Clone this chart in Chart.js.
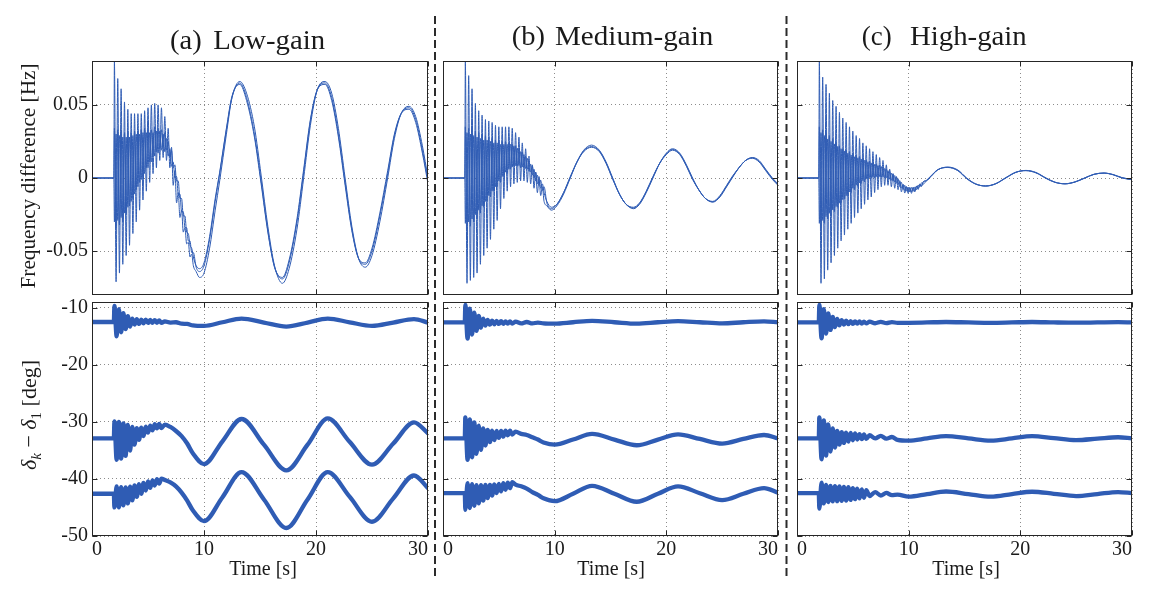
<!DOCTYPE html>
<html>
<head>
<meta charset="utf-8">
<title>Low / medium / high gain responses</title>
<script src="https://cdn.jsdelivr.net/npm/chart.js@4.4.0/dist/chart.umd.min.js"></script>
<style>
  html, body { margin: 0; padding: 0; background: #fff; }
  #page { position: relative; width: 1152px; height: 599px; overflow: hidden; background: #fff; }
  #page canvas { position: absolute; }
  #ann { position: absolute; left: 0; top: 0; pointer-events: none; }
</style>
</head>
<body>
<div id="page">
  <canvas id="aTop"></canvas>
  <canvas id="bTop"></canvas>
  <canvas id="cTop"></canvas>
  <canvas id="aBot"></canvas>
  <canvas id="bBot"></canvas>
  <canvas id="cBot"></canvas>
  <svg id="ann" width="1152" height="599" font-family="'Liberation Serif', 'Times New Roman', serif" fill="#1a1a1a">
    <line x1="435" y1="16" x2="435" y2="580" stroke="#2b2b2b" stroke-width="2" stroke-dasharray="8 4"/>
    <line x1="786.5" y1="16" x2="786.5" y2="580" stroke="#2b2b2b" stroke-width="2" stroke-dasharray="8 4"/>

    <text x="170" y="49" font-size="28" textLength="31.7" lengthAdjust="spacingAndGlyphs">(a)</text>
    <text x="213.3" y="49" font-size="28" textLength="111.7" lengthAdjust="spacingAndGlyphs">Low-gain</text>
    <text x="511.7" y="45" font-size="28" textLength="33.3" lengthAdjust="spacingAndGlyphs">(b)</text>
    <text x="555" y="45" font-size="28" textLength="158.3" lengthAdjust="spacingAndGlyphs">Medium-gain</text>
    <text x="861.7" y="45" font-size="28" textLength="30" lengthAdjust="spacingAndGlyphs">(c)</text>
    <text x="910" y="45" font-size="28" textLength="116.7" lengthAdjust="spacingAndGlyphs">High-gain</text>

    <text transform="translate(35 176) rotate(-90)" text-anchor="middle" font-size="21" textLength="225" lengthAdjust="spacingAndGlyphs">Frequency difference [Hz]</text>
    <text transform="translate(36 415) rotate(-90)" text-anchor="middle" font-size="22"><tspan font-style="italic">δ</tspan><tspan font-style="italic" font-size="15" dy="5">k</tspan><tspan dy="-5"> − </tspan><tspan font-style="italic">δ</tspan><tspan font-size="15" dy="5">1</tspan><tspan dy="-5"> [deg]</tspan></text>

    <text x="263" y="574.5" text-anchor="middle" font-size="20">Time [s]</text>
    <text x="611" y="574.5" text-anchor="middle" font-size="20">Time [s]</text>
    <text x="966" y="574.5" text-anchor="middle" font-size="20">Time [s]</text>
  </svg>
</div>
<script>
// ---- time axes (s) ----
const fastTime = [2.00, 2.15, 2.30, 2.45, 2.60, 2.75, 2.90, 3.05, 3.20, 3.35, 3.50, 3.65, 3.80, 3.95, 4.10, 4.25,
  4.40, 4.55, 4.70, 4.85, 5.00, 5.15, 5.30, 5.45, 5.60, 5.75, 5.90, 6.05, 6.20, 6.35, 6.50, 6.65, 6.80, 6.95,
  7.10, 7.25, 7.40, 7.55, 7.70, 7.85, 8.00, 8.15, 8.30, 8.45, 8.60, 8.75, 8.90, 9.05];
const aTopSlowTime = [9.3, 9.6, 10.0, 10.5, 11.0, 11.4, 12.0, 12.5, 13.2, 13.8, 14.5, 15.1, 15.7, 16.3, 17.0, 17.6,
  18.3, 18.9, 19.5, 20.1, 20.8, 21.4, 22.0, 22.6, 23.2, 23.8, 24.4, 25.0, 25.7, 26.4, 27.0, 27.6, 28.3, 28.9, 29.5, 30.0];
const bTopSlowTime = [9.3, 9.7, 10.2, 10.8, 11.4, 12.0, 12.6, 13.3, 14.0, 14.6, 15.2, 15.8, 16.4, 17.06, 17.6, 18.2,
  18.8, 19.4, 20.0, 20.55, 21.2, 21.8, 22.35, 22.9, 23.5, 24.16, 24.8, 25.4, 25.9, 26.5, 27.1, 27.7, 28.3, 28.9, 29.5, 30.0];
const cTopSlowTime = [9.2, 9.35, 9.5, 9.65, 9.8, 9.95, 10.1, 10.25, 10.4, 10.55, 10.7, 10.85, 11.0, 11.15, 11.3,
  11.6, 12.0, 12.6, 13.5, 14.4, 15.2, 16.0, 16.9, 17.8, 18.7, 19.6, 20.5, 21.4, 22.3, 23.1, 24.0, 24.9, 25.8,
  26.6, 27.5, 28.3, 29.1, 30.0];
const botFastTime = [2.0, 2.2, 2.4, 2.6, 2.8, 3.0, 3.2, 3.4, 3.6, 3.8, 4.0, 4.2, 4.4, 4.6, 4.8, 5.0, 5.2, 5.4, 5.6, 5.8, 6.0, 6.2];
const botSlowTime = [6.5, 7.0, 7.5, 8.0, 8.5, 9.0, 10.0, 11.65, 13.35, 15.35, 17.35, 19.25, 21.05, 23.0, 25.0, 26.9, 28.75, 30.0];

// ---- tick labels ----
const xTicks = [0, 10, 20, 30];
const freqTicks = [-0.05, 0, 0.05];
const angleTicks = [-50, -40, -30, -20, -10];

// ---- (a) low gain, frequency difference [Hz] ----
const aTop1 = [0, 0,
  0.080, -0.071, 0.068, -0.065, 0.061, -0.059, 0.052, -0.053, 0.047, -0.046, 0.044, -0.038, 0.044, -0.030,
  0.044, -0.022, 0.044, -0.015, 0.046, -0.009, 0.048, -0.003, 0.050, 0.003, 0.051, 0.007, 0.050, 0.012,
  0.048, 0.014, 0.042, 0.012, 0.034, 0.007, 0.021, -0.005, 0.005, -0.017, -0.010, -0.027, -0.022, -0.037,
  -0.034, -0.045, -0.044, -0.054, -0.052, -0.060,
  -0.064, -0.068, -0.065, -0.048, -0.022, -0.002, 0.030, 0.055, 0.066, 0.058, 0.035, 0.002, -0.033, -0.060,
  -0.072, -0.062, -0.035, 0.000, 0.036, 0.060, 0.066, 0.058, 0.034, 0.000, -0.033, -0.055, -0.061, -0.053,
  -0.030, 0.000, 0.027, 0.044, 0.049, 0.042, 0.022, 0.000];
const aTop2 = [0, 0,
  0.034, -0.034, 0.033, -0.032, 0.033, -0.030, 0.031, -0.025, 0.032, -0.019, 0.031, -0.014, 0.032, -0.008,
  0.032, -0.003, 0.033, 0.001, 0.034, 0.007, 0.033, 0.011, 0.033, 0.016, 0.035, 0.018, 0.034, 0.020,
  0.033, 0.021, 0.031, 0.019, 0.025, 0.014, 0.019, 0.007, 0.009, -0.002, -0.002, -0.014, -0.014, -0.026,
  -0.026, -0.037, -0.038, -0.046, -0.048, -0.054,
  -0.060, -0.062, -0.058, -0.040, -0.014, 0.004, 0.034, 0.056, 0.064, 0.053, 0.028, -0.004, -0.037, -0.061,
  -0.068, -0.056, -0.028, 0.006, 0.040, 0.060, 0.064, 0.053, 0.028, -0.005, -0.036, -0.055, -0.058, -0.048,
  -0.024, 0.005, 0.030, 0.044, 0.047, 0.038, 0.017, -0.004];
const aTop3 = [0, 0,
  -0.030, 0.030, -0.029, 0.029, -0.027, 0.028, -0.024, 0.028, -0.020, 0.028, -0.016, 0.029, -0.011, 0.030,
  -0.006, 0.030, -0.001, 0.031, 0.003, 0.031, 0.007, 0.031, 0.011, 0.031, 0.015, 0.032, 0.017, 0.032,
  0.019, 0.030, 0.018, 0.027, 0.015, 0.020, 0.008, 0.011, 0.000, 0.001, -0.011, -0.011, -0.023, -0.023,
  -0.034, -0.034, -0.043, -0.043, -0.051, -0.051,
  -0.061, -0.064, -0.060, -0.042, -0.016, 0.003, 0.033, 0.055, 0.065, 0.055, 0.030, -0.002, -0.036, -0.061,
  -0.069, -0.058, -0.030, 0.004, 0.039, 0.060, 0.065, 0.055, 0.030, -0.003, -0.035, -0.055, -0.059, -0.050,
  -0.026, 0.003, 0.029, 0.044, 0.048, 0.040, 0.019, -0.002];

// ---- (b) medium gain, frequency difference [Hz] ----
const bTop1 = [0, 0,
  0.080, -0.072, 0.070, -0.070, 0.061, -0.068, 0.051, -0.065, 0.046, -0.059, 0.043, -0.053, 0.040, -0.048,
  0.039, -0.042, 0.038, -0.035, 0.036, -0.029, 0.035, -0.021, 0.035, -0.014, 0.035, -0.009, 0.035, -0.006,
  0.034, -0.004, 0.031, -0.003, 0.028, -0.002, 0.024, -0.002, 0.020, -0.003, 0.015, -0.004, 0.009, -0.007,
  0.004, -0.010, -0.001, -0.012, -0.006, -0.016,
  -0.019, -0.022, -0.019, -0.011, 0.000, 0.011, 0.019, 0.0225, 0.019, 0.011, 0.000, -0.011, -0.018, -0.021,
  -0.018, -0.010, 0.000, 0.010, 0.017, 0.020, 0.017, 0.009, 0.000, -0.008, -0.014, -0.0165, -0.013, -0.006,
  0.000, 0.007, 0.012, 0.014, 0.012, 0.006, 0.000, -0.004];
const bTop2 = [0, 0,
  0.035, -0.035, 0.034, -0.033, 0.033, -0.030, 0.032, -0.028, 0.031, -0.024, 0.030, -0.020, 0.029, -0.016,
  0.028, -0.013, 0.027, -0.009, 0.026, -0.006, 0.026, -0.003, 0.025, 0.001, 0.025, 0.003, 0.024, 0.006,
  0.023, 0.008, 0.022, 0.008, 0.020, 0.007, 0.018, 0.007, 0.015, 0.006, 0.012, 0.004, 0.008, 0.000,
  0.004, -0.004, 0.001, -0.007, -0.004, -0.010,
  -0.016, -0.020, -0.018, -0.010, 0.001, 0.011, 0.018, 0.021, 0.018, 0.010, -0.001, -0.011, -0.018, -0.020,
  -0.017, -0.009, 0.001, 0.010, 0.016, 0.019, 0.016, 0.008, -0.001, -0.008, -0.014, -0.016, -0.012, -0.005,
  0.001, 0.007, 0.012, 0.0135, 0.011, 0.005, -0.001, -0.005];
const bTop3 = [0, 0,
  -0.031, 0.031, -0.030, 0.030, -0.028, 0.029, -0.025, 0.028, -0.022, 0.027, -0.019, 0.026, -0.016, 0.026,
  -0.012, 0.025, -0.009, 0.024, -0.006, 0.024, -0.002, 0.023, 0.001, 0.023, 0.004, 0.023, 0.006, 0.023,
  0.0075, 0.022, 0.0085, 0.0205, 0.0085, 0.018, 0.0075, 0.016, 0.0065, 0.0135, 0.0045, 0.0095, 0.002, 0.006,
  -0.002, 0.002, -0.005, -0.0015, -0.0085, -0.006,
  -0.017, -0.021, -0.018, -0.010, 0.0005, 0.011, 0.0185, 0.0215, 0.0185, 0.0105, -0.0005, -0.011, -0.018, -0.0205,
  -0.0175, -0.0095, 0.0005, 0.010, 0.0165, 0.0195, 0.0165, 0.0085, -0.0005, -0.008, -0.014, -0.0163, -0.0125, -0.0055,
  0.0005, 0.007, 0.012, 0.0138, 0.0115, 0.0055, -0.0005, -0.0045];

// ---- (c) high gain, frequency difference [Hz] ----
const cTop1 = [0, 0,
  0.080, -0.072, 0.069, -0.069, 0.064, -0.063, 0.058, -0.058, 0.053, -0.053, 0.049, -0.048, 0.045, -0.043,
  0.041, -0.039, 0.038, -0.035, 0.035, -0.031, 0.032, -0.027, 0.029, -0.024, 0.027, -0.021, 0.024, -0.018,
  0.022, -0.015, 0.020, -0.013, 0.018, -0.010, 0.016, -0.008, 0.014, -0.006, 0.012, -0.005, 0.009, -0.005,
  0.006, -0.006, 0.003, -0.007, 0.001, -0.008,
  -0.0025, -0.0095, -0.0047, -0.0103, -0.0062, -0.0105, -0.0066, -0.0105, -0.0064, -0.0095, -0.0056, -0.0078,
  -0.0043, -0.0058, -0.0027, -0.002, 0.001, 0.0055, 0.0075, 0.0055, 0.000, -0.004, -0.0055, -0.004, 0.000,
  0.0038, 0.0052, 0.0038, 0.000, -0.0028, -0.004, -0.0028, 0.000, 0.0025, 0.0034, 0.0024, 0.0003, -0.001];
const cTop2 = [0, 0,
  0.035, -0.034, 0.033, -0.031, 0.031, -0.028, 0.029, -0.026, 0.027, -0.023, 0.0245, -0.020, 0.022, -0.017,
  0.020, -0.0145, 0.019, -0.0125, 0.018, -0.010, 0.017, -0.008, 0.0156, -0.0057, 0.0147, -0.0038, 0.0138, -0.0026,
  0.0125, -0.001, 0.0115, -0.0003, 0.0106, 0.0, 0.0097, 0.0002, 0.0088, 0.0004, 0.0077, 0.0, 0.0062, -0.0006,
  0.0045, -0.0016, 0.0027, -0.0028, 0.0007, -0.0045,
  -0.0018, -0.007, -0.0042, -0.0086, -0.0058, -0.0094, -0.0065, -0.0095, -0.0065, -0.0087, -0.0056, -0.0072,
  -0.0042, -0.0053, -0.0026, -0.0015, 0.0015, 0.0057, 0.0072, 0.005, -0.0005, -0.0042, -0.0054, -0.0038, 0.0003,
  0.004, 0.005, 0.0035, -0.0003, -0.003, -0.0039, -0.0026, 0.0002, 0.0026, 0.0033, 0.0022, 0.0, -0.0012];
const cTop3 = [0, 0,
  -0.031, 0.031, -0.029, 0.029, -0.0264, 0.0267, -0.0241, 0.025, -0.0218, 0.0233, -0.0195, 0.0216, -0.0172, 0.020,
  -0.0148, 0.0185, -0.0122, 0.017, -0.0096, 0.0157, -0.007, 0.0145, -0.0049, 0.0138, -0.0033, 0.0129, -0.0018, 0.012,
  -0.0005, 0.0111, 0.0003, 0.0103, 0.0006, 0.0093, 0.0009, 0.0085, 0.001, 0.0078, 0.0008, 0.0065, 0.0002, 0.005,
  -0.0008, 0.0034, -0.002, 0.0017, -0.0036, -0.0005,
  -0.0058, -0.003, -0.0078, -0.005, -0.009, -0.0062, -0.0095, -0.0065, -0.0091, -0.0061, -0.008, -0.0048,
  -0.0062, -0.0033, -0.0042, -0.0017, 0.0013, 0.0056, 0.0073, 0.0052, -0.0003, -0.0041, -0.0055, -0.0039, 0.0001,
  0.0039, 0.0051, 0.0036, -0.0001, -0.0029, -0.004, -0.0027, 0.0001, 0.0025, 0.0034, 0.0023, 0.0002, -0.0011];

// ---- angle differences [deg] ----
const aBot1 = [-12.5, -12.5,
  -9.7, -15.0, -10.25, -14.3, -10.95, -13.75, -11.5, -13.3, -11.9, -12.95, -12.0, -12.85, -12.1, -12.75,
  -12.1, -12.67, -12.15, -12.64, -12.17, -12.65, -12.24, -12.66,
  -12.4, -12.6, -12.55, -12.8, -12.85, -13.1, -13.2, -12.55, -11.9, -12.6, -13.3, -12.6, -11.9, -12.55, -13.2,
  -12.6, -12.0, -12.6];
const aBot2 = [-32.9, -32.9,
  -29.9, -36.65, -30.0, -36.45, -30.25, -35.95, -30.55, -35.05, -30.9, -34.0, -31.1, -33.15, -31.0, -32.48,
  -30.85, -31.88, -30.65, -31.48, -30.4, -31.15, -30.35, -31.08,
  -30.5, -30.9, -31.6, -32.5, -33.8, -35.5, -37.4, -33.4, -29.5, -34.0, -38.5, -34.0, -29.4, -33.5, -37.5,
  -33.8, -30.1, -32.0];
const aBot3 = [-42.6, -42.6,
  -45.0, -41.3, -45.0, -41.45, -44.65, -41.48, -44.3, -41.35, -43.75, -41.15, -43.15, -40.92, -42.6, -40.68,
  -42.05, -40.42, -41.57, -40.24, -41.15, -40.04, -40.82, -39.95,
  -40.2, -40.6, -41.3, -42.4, -43.8, -45.5, -47.4, -43.2, -38.8, -43.6, -48.6, -43.6, -38.8, -43.1, -47.5,
  -43.4, -39.4, -41.6];
const bBot1 = [-12.57, -12.57,
  -9.5, -15.4, -10.15, -14.7, -10.85, -14.05, -11.45, -13.5, -11.9, -13.15, -12.15, -12.98, -12.27, -12.9,
  -12.33, -12.85, -12.37, -12.82, -12.39, -12.8, -12.41, -12.78,
  -12.45, -12.75, -12.5, -12.75, -12.6, -12.75, -12.8, -12.55, -12.3, -12.55, -12.8, -12.55, -12.35, -12.55,
  -12.75, -12.55, -12.4, -12.55];
const bBot2 = [-32.9, -32.9,
  -29.2, -36.65, -29.55, -36.2, -30.1, -35.6, -30.65, -34.9, -31.15, -34.15, -31.4, -33.55, -31.55, -33.2,
  -31.6, -32.82, -31.6, -32.6, -31.55, -32.35, -31.53, -32.25,
  -31.7, -32.1, -32.3, -32.7, -33.1, -33.6, -34.0, -33.1, -32.1, -33.1, -34.1, -33.1, -32.2, -33.0, -33.8,
  -33.0, -32.3, -32.9];
const bBot3 = [-42.5, -42.5,
  -45.4, -40.72, -45.1, -40.9, -44.7, -41.08, -44.3, -41.07, -43.8, -41.05, -43.35, -41.05, -42.9, -40.97,
  -42.5, -40.86, -42.18, -40.76, -41.9, -40.64, -41.62, -40.55,
  -41.0, -41.3, -41.7, -42.3, -42.8, -43.4, -43.9, -42.6, -41.2, -42.6, -44.0, -42.6, -41.3, -42.5, -43.7,
  -42.6, -41.6, -42.4];
const cBot1 = [-12.57, -12.57,
  -9.5, -15.35, -10.25, -14.55, -11.0, -13.9, -11.6, -13.4, -11.98, -13.1, -12.18, -12.96, -12.28, -12.89,
  -12.34, -12.84, -12.38, -12.8, -12.41, -12.78, -12.43, -12.76,
  -12.45, -12.72, -12.48, -12.7, -12.52, -12.66, -12.65, -12.58, -12.5, -12.58, -12.65, -12.58, -12.5, -12.58,
  -12.63, -12.58, -12.53, -12.57];
const cBot2 = [-32.9, -32.9,
  -29.2, -36.55, -29.75, -35.9, -30.45, -35.2, -31.15, -34.5, -31.6, -34.0, -31.8, -33.7, -31.9, -33.45,
  -31.95, -33.22, -32.04, -33.1, -32.14, -33.02, -32.2, -32.98,
  -32.35, -32.9, -32.45, -32.95, -32.65, -33.15, -33.3, -32.9, -32.5, -32.9, -33.3, -32.9, -32.5, -32.85, -33.2,
  -32.95, -32.7, -32.9];
const cBot3 = [-42.5, -42.5,
  -45.2, -40.65, -44.3, -41.05, -44.05, -41.2, -43.95, -41.28, -43.9, -41.32, -43.85, -41.38, -43.78, -41.46,
  -43.68, -41.6, -43.55, -41.72, -43.42, -41.84, -43.3, -41.95,
  -43.0, -42.3, -42.9, -42.45, -42.85, -42.75, -43.1, -42.65, -42.2, -42.65, -43.1, -42.65, -42.25, -42.6, -43.0,
  -42.65, -42.3, -42.5];

const aTopTime = [0, 1.95].concat(fastTime, aTopSlowTime);
const bTopTime = [0, 1.95].concat(fastTime, bTopSlowTime);
const cTopTime = [0, 1.95].concat(fastTime, cTopSlowTime);
const botTime = [0, 1.95].concat(botFastTime, botSlowTime);

const LINE = '#2f5cb4';
const TICK_FONT = { family: "'Liberation Serif', 'Times New Roman', serif", size: 20 };

// MATLAB-like box with inward tick marks
const boxPlugin = {
  id: 'box',
  afterDatasetsDraw(chart) {
    const { ctx, chartArea: a, scales: { x, y } } = chart;
    const l = Math.round(a.left) + 0.5, t = Math.round(a.top) + 0.5;
    const r = Math.round(a.right) - 0.5, b = Math.round(a.bottom) - 0.5;
    ctx.save();
    ctx.strokeStyle = '#262626';
    ctx.lineWidth = 1;
    ctx.beginPath();
    x.ticks.forEach(tk => {
      const px = Math.round(x.getPixelForValue(tk.value)) + 0.5;
      ctx.moveTo(px, b); ctx.lineTo(px, b - 5);
      ctx.moveTo(px, t); ctx.lineTo(px, t + 5);
    });
    y.ticks.forEach(tk => {
      const py = Math.round(y.getPixelForValue(tk.value)) + 0.5;
      ctx.moveTo(l, py); ctx.lineTo(l + 5, py);
      ctx.moveTo(r, py); ctx.lineTo(r - 5, py);
    });
    ctx.stroke();
    ctx.strokeRect(l, t, r - l, b - t);
    ctx.restore();
  }
};

function buildPanel(p) {
  const cv = document.getElementById(p.id);
  cv.width = p.w;
  cv.height = p.h;
  cv.style.left = p.left + 'px';
  cv.style.top = p.top + 'px';

  const datasets = p.series.map(vals => ({
    data: p.time.map((t, i) => ({ x: t, y: vals[i] })),
    borderColor: LINE,
    borderWidth: p.lw,
    pointRadius: 0,
    fill: false,
    cubicInterpolationMode: 'monotone',
    borderJoinStyle: 'round',
    borderCapStyle: 'round'
  }));

  new Chart(cv, {
    type: 'line',
    data: { datasets },
    options: {
      responsive: false,
      animation: false,
      devicePixelRatio: 1,
      layout: { padding: { left: 0, right: 10, top: 10, bottom: 0 } },
      plugins: { legend: { display: false }, tooltip: { enabled: false } },
      scales: {
        x: {
          type: 'linear', min: 0, max: 30,
          afterBuildTicks: s => { s.ticks = xTicks.map(v => ({ value: v })); },
          afterFit: s => { s.height = p.xH; s.paddingLeft = 0; s.paddingRight = 0; s.paddingTop = 0; s.paddingBottom = 0; },
          grid: { color: '#8c8c8c', lineWidth: 1, drawTicks: false },
          border: { display: false, dash: [1, 3] },
          ticks: { display: p.showX, align: 'inner', padding: 2, autoSkip: false, maxRotation: 0,
                   font: TICK_FONT, color: '#1a1a1a', callback: v => String(v) }
        },
        y: {
          type: 'linear', min: p.yMin, max: p.yMax,
          afterBuildTicks: s => { s.ticks = p.yTicks.map(v => ({ value: v })); },
          afterFit: s => { s.width = 70; s.paddingLeft = 0; s.paddingRight = 0; s.paddingTop = 0; s.paddingBottom = 0; },
          grid: { color: '#8c8c8c', lineWidth: 1, drawTicks: false },
          border: { display: false, dash: [1, 3] },
          ticks: { display: p.showY, padding: 4, autoSkip: false,
                   font: TICK_FONT, color: '#1a1a1a', callback: v => String(v) }
        }
      }
    },
    plugins: [boxPlugin]
  });
}

const topCommon = { top: 51, h: 254, xH: 10, showX: false, yMin: -0.08, yMax: 0.08, yTicks: freqTicks, lw: 1.0 };
const botCommon = { top: 292, h: 274, xH: 30, showX: true, yMin: -50, yMax: -9, yTicks: angleTicks, lw: 4.3 };

buildPanel(Object.assign({ id: 'aTop', left: 22, w: 416, showY: true, time: aTopTime, series: [aTop1, aTop2, aTop3] }, topCommon));
buildPanel(Object.assign({ id: 'bTop', left: 373, w: 415, showY: false, time: bTopTime, series: [bTop1, bTop2, bTop3] }, topCommon));
buildPanel(Object.assign({ id: 'cTop', left: 727, w: 415, showY: false, time: cTopTime, series: [cTop1, cTop2, cTop3] }, topCommon));
buildPanel(Object.assign({ id: 'aBot', left: 22, w: 416, showY: true, time: botTime, series: [aBot1, aBot2, aBot3] }, botCommon));
buildPanel(Object.assign({ id: 'bBot', left: 373, w: 415, showY: false, time: botTime, series: [bBot1, bBot2, bBot3] }, botCommon));
buildPanel(Object.assign({ id: 'cBot', left: 727, w: 415, showY: false, time: botTime, series: [cBot1, cBot2, cBot3] }, botCommon));
</script>
</body>
</html>
